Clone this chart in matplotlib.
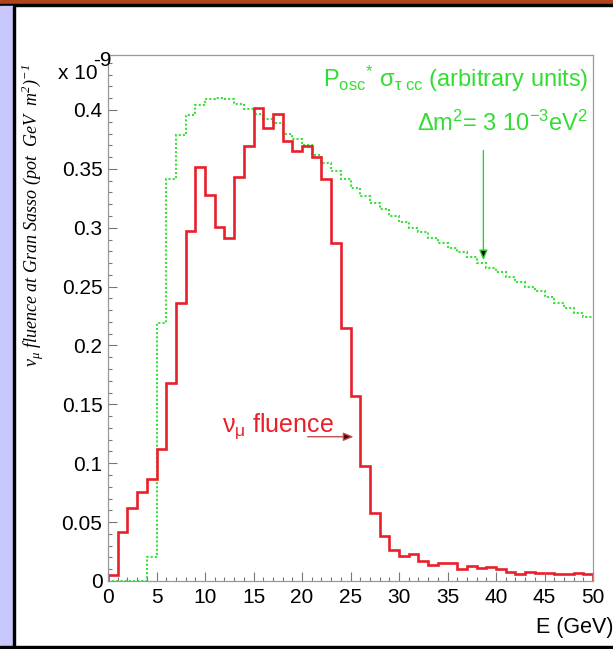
import matplotlib.pyplot as plt
from matplotlib.patches import Rectangle
from matplotlib.ticker import MultipleLocator, FormatStrFormatter
import numpy as np

plt.rcParams.update(
    {
        "font.family": ["Liberation Sans", "DejaVu Sans"],
        "mathtext.fontset": "custom",
        "mathtext.rm": "Liberation Sans",
        "mathtext.it": "Liberation Sans:italic",
        "mathtext.sf": "Liberation Serif:italic",
    }
)

# 1 GeV bins from 0 to 50
bin_edges = np.arange(0, 51, 1)

# nu_mu fluence at Gran Sasso (x 1e-9)
fluence = [0.005, 0.042, 0.062, 0.076, 0.087, 0.112, 0.168, 0.236, 0.297, 0.352,
           0.328, 0.301, 0.291, 0.343, 0.369, 0.402, 0.385, 0.397, 0.374, 0.365,
           0.369, 0.360, 0.341, 0.287, 0.215, 0.157, 0.098, 0.058, 0.038, 0.026,
           0.021, 0.023, 0.017, 0.014, 0.015, 0.015, 0.010, 0.013, 0.011, 0.012,
           0.010, 0.008, 0.006, 0.008, 0.007, 0.007, 0.006, 0.006, 0.007, 0.006]

# P_osc * sigma_tau_cc (arbitrary units)
posc_sigma = [0.0, 0.0, 0.0, 0.0, 0.020, 0.219, 0.341, 0.379, 0.396, 0.404,
              0.409, 0.410, 0.409, 0.405, 0.401, 0.397, 0.392, 0.389, 0.380, 0.375,
              0.370, 0.362, 0.355, 0.348, 0.341, 0.334, 0.327, 0.321, 0.316, 0.310,
              0.305, 0.300, 0.296, 0.291, 0.287, 0.283, 0.279, 0.275, 0.270, 0.266,
              0.262, 0.258, 0.254, 0.250, 0.246, 0.241, 0.236, 0.232, 0.228, 0.224]

x_ticks = np.arange(0, 51, 5)
y_ticks = [0, 0.05, 0.1, 0.15, 0.2, 0.25, 0.3, 0.35, 0.4]

RED = "#e8202a"
GREEN = "#3be03b"
GREEN_TEXT = "#33dd33"

W, H = 613, 649
fig = plt.figure(figsize=(W / 100, H / 100), dpi=100)

# slide decoration: brown top stripe, lavender left strip, black rules
fig.patches.append(Rectangle((0, 1 - 4 / H), 1, 4 / H, transform=fig.transFigure, color="#b0441c", zorder=0))
fig.patches.append(Rectangle((0, 1 - 6 / H), 1, 2 / H, transform=fig.transFigure, color="black", zorder=0))
fig.patches.append(Rectangle((0, 0), 13 / W, 1 - 6 / H, transform=fig.transFigure, color="#c8c8ff", zorder=0))
fig.patches.append(Rectangle((13 / W, 0), 2 / W, 1 - 6 / H, transform=fig.transFigure, color="black", zorder=0))
fig.patches.append(Rectangle((0, 0), 1, 3 / H, transform=fig.transFigure, color="black", zorder=0))

ax = fig.add_axes([108 / W, 1 - 581 / H, (593 - 108) / W, (581 - 55) / H])
ax.stairs(posc_sigma, bin_edges, color=GREEN, linewidth=1.5, linestyle=(0, (1, 1)), baseline=None)
ax.stairs(fluence, bin_edges, color=RED, linewidth=1.9, baseline=0)

ax.set_xlim(0, 50)
ax.set_ylim(0, 0.4467)
ax.set_xticks(x_ticks)
ax.set_yticks(y_ticks)
ax.xaxis.set_minor_locator(MultipleLocator(1))
ax.yaxis.set_minor_locator(MultipleLocator(0.01))
ax.yaxis.set_major_formatter(FormatStrFormatter("%g"))
ax.tick_params(which="both", direction="in", top=False, right=False, color="#777777", width=0.8)
ax.tick_params(which="major", length=6.5, labelsize=15)
ax.tick_params(which="minor", length=3.2)
ax.tick_params(axis="y", pad=4)
ax.tick_params(axis="x", pad=5)
for spine in ax.spines.values():
    spine.set_color("#999999")
    spine.set_linewidth(0.9)

fig.text(98 / W, 1 - 79 / H, "x 10", ha="right", va="baseline", fontsize=15)
fig.text(93 / W, 1 - 66 / H, "-9", ha="left", va="baseline", fontsize=15)

fig.text(33 / W, 1 - 215 / H,
         r"ν$_\mathsf{μ}$ fluence at Gran Sasso (pot  GeV  m$^\mathsf{2}$)$^\mathsf{-1}$",
         rotation=90, ha="center", va="center", fontsize=13,
         family="Liberation Serif", style="italic")

fig.text(1.0, 1 - 628 / H, "E (GeV)", ha="right", va="center", fontsize=15.5)

ax.text(0.99, 0.94, r"P$_\mathrm{osc}$$^{*}$ σ$_\mathrm{τ\ cc}$ (arbitrary units)",
        transform=ax.transAxes, ha="right", va="baseline", fontsize=17, color=GREEN_TEXT)
ax.text(0.99, 0.855, r"Δm$^\mathrm{2}$= 3 10$^\mathrm{-3}$eV$^\mathrm{2}$",
        transform=ax.transAxes, ha="right", va="baseline", fontsize=17, color=GREEN_TEXT)
ax.annotate("", xy=(38.7, 0.270), xytext=(38.7, 0.368),
            arrowprops=dict(arrowstyle="-|>,head_length=0.6,head_width=0.25", ec="#33cc33", fc="black", lw=1.0))

ax.text(11.8, 0.127, r"ν$_\mathrm{μ}$ fluence", ha="left", va="baseline", fontsize=18, color=RED)
ax.annotate("", xy=(25.6, 0.1225), xytext=(20.3, 0.1225),
            arrowprops=dict(arrowstyle="-|>,head_length=0.6,head_width=0.25", ec="#c05050", fc="#550000", lw=1.0))

fig.savefig("out.png", dpi=100, facecolor="white")
